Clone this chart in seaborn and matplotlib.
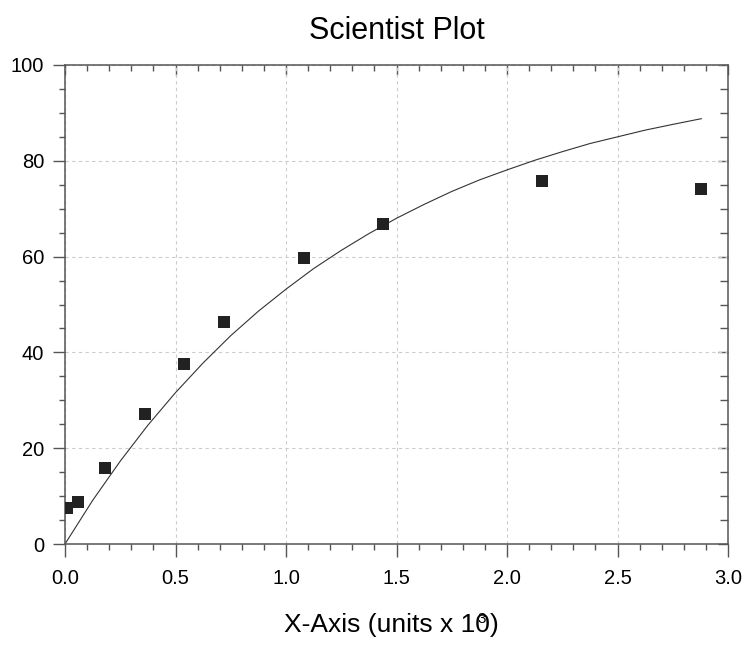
import matplotlib
matplotlib.use("Agg")
import matplotlib.pyplot as plt
from matplotlib.ticker import MultipleLocator
import pandas as pd
import seaborn as sns

# measured points (x in units of 10^3)
x_data = [0.01, 0.06, 0.18, 0.36, 0.54, 0.72, 1.08, 1.44, 2.16, 2.88]
y_data = [7.5, 8.8, 15.9, 27.1, 37.6, 46.3, 59.8, 66.9, 75.7, 74.2]

# fitted curve
x_fit = [0.0, 0.125, 0.25, 0.375, 0.5, 0.625, 0.75, 0.875, 1.0, 1.125, 1.25, 1.375,
         1.5, 1.625, 1.75, 1.875, 2.0, 2.125, 2.25, 2.375, 2.5, 2.625, 2.75, 2.88]
y_fit = [0.0, 9.1, 17.3, 24.8, 31.6, 37.8, 43.5, 48.6, 53.2, 57.5, 61.3, 64.8,
         68.0, 70.9, 73.6, 76.0, 78.1, 80.1, 81.9, 83.6, 85.0, 86.4, 87.6, 88.8]

title = "Scientist Plot"
x_label = "X-Axis (units x 10)"
x_label_sup = "3"

sns.set_style("white")
plt.rcParams["font.family"] = ["Liberation Sans", "DejaVu Sans"]
plt.rcParams["text.color"] = "black"
plt.rcParams["axes.labelcolor"] = "black"

points = pd.DataFrame({"x": x_data, "y": y_data})
curve = pd.DataFrame({"x": x_fit, "y": y_fit})

fig = plt.figure(figsize=(7.45, 6.46), dpi=100)
ax = fig.add_axes([65 / 745, 1 - 544 / 646, 663 / 745, 479 / 646])

sns.lineplot(data=curve, x="x", y="y", ax=ax, color="#333333", linewidth=0.8)
sns.scatterplot(data=points, x="x", y="y", ax=ax, marker="s", s=75,
                color="#222222", linewidth=0, zorder=3)

ax.set_xlim(0, 3.0)
ax.set_ylim(0, 100)
ax.xaxis.set_major_locator(MultipleLocator(0.5))
ax.xaxis.set_minor_locator(MultipleLocator(0.1))
ax.yaxis.set_major_locator(MultipleLocator(20))
ax.yaxis.set_minor_locator(MultipleLocator(5))
ax.set_xticks([0, 0.5, 1.0, 1.5, 2.0, 2.5, 3.0])
ax.set_xticklabels(["0.0", "0.5", "1.0", "1.5", "2.0", "2.5", "3.0"])

ax.grid(True, which="major", color="#cccccc", linestyle=(0, (3, 3)), linewidth=0.8)

for s in ax.spines.values():
    s.set_color("#555555")
    s.set_linewidth(1.1)

# outward ticks on left/bottom, inward on top/right
ax.tick_params(which="major", direction="out", length=9, width=1, color="#555555",
               labelsize=14.5, labelcolor="black", left=True, bottom=True)
ax.tick_params(which="minor", direction="out", length=4.5, width=1, color="#555555",
               left=True, bottom=True)
ax.tick_params(axis="x", which="major", pad=9)
ax.tick_params(axis="y", which="major", pad=6)

ax_top = ax.secondary_xaxis("top")
ax_top.xaxis.set_major_locator(MultipleLocator(0.5))
ax_top.xaxis.set_minor_locator(MultipleLocator(0.1))
ax_top.tick_params(which="major", direction="in", length=7.5, width=1, color="#555555", labeltop=False)
ax_top.tick_params(which="minor", direction="in", length=4.5, width=1, color="#555555")
ax_top.spines["top"].set_visible(False)

ax_right = ax.secondary_yaxis("right")
ax_right.yaxis.set_major_locator(MultipleLocator(20))
ax_right.yaxis.set_minor_locator(MultipleLocator(5))
ax_right.tick_params(which="major", direction="in", length=7.5, width=1, color="#555555", labelright=False)
ax_right.tick_params(which="minor", direction="in", length=6, width=1, color="#555555")
ax_right.spines["right"].set_visible(False)

ax.set_title(title, fontsize=22, pad=19, color="black")
ax.set_ylabel("")
ax.set_xlabel(x_label, fontsize=19, labelpad=18)
ax.xaxis.set_label_coords(0.4925, -0.145)
ax.xaxis.label.set_va("top")

# the superscript sits on top of the last zero, as in the original
fig.text(482 / 745, 1 - 619 / 646, x_label_sup, fontsize=11, ha="center", va="center")

fig.savefig("out.png", dpi=100)
